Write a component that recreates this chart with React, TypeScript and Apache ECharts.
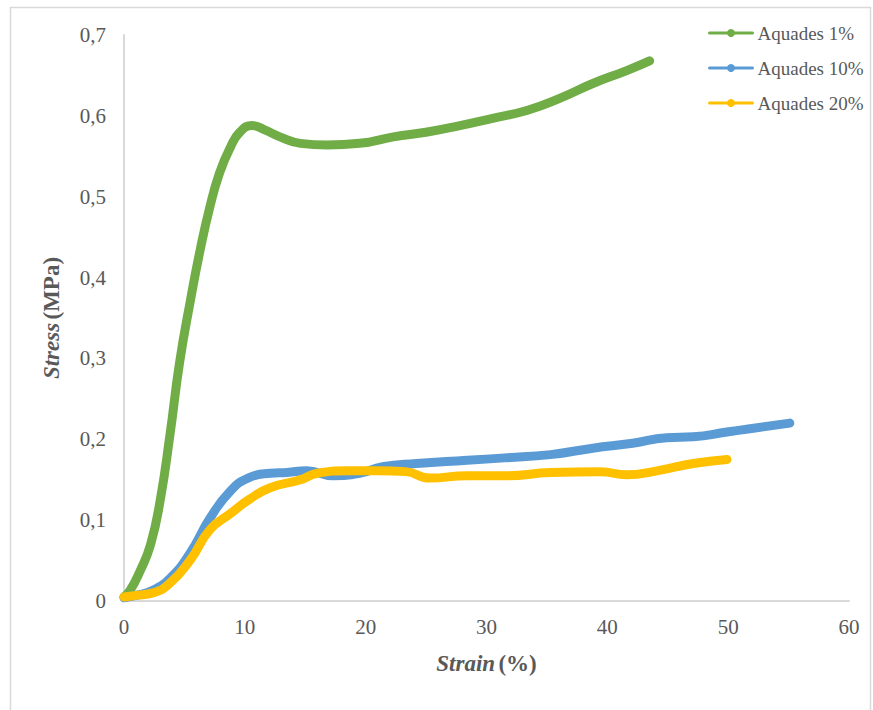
import React, { useEffect, useRef } from "react";
import * as echarts from "echarts";

const seriesNames = ["Aquades 1%", "Aquades 10%", "Aquades 20%"];
const colors = ["#70AD47", "#5B9BD5", "#FFC000"];

const greenX = [0, 0.5, 1.3, 2.2, 3.0, 3.8, 4.6, 5.5, 6.3, 7.1, 7.9, 8.8, 9.6, 10.6, 11.6, 12.9, 14.6, 16.8, 19.5, 22.3, 25.1, 27.8, 30.5, 33.4, 36.1, 38.8, 41.6, 43.5];
const greenY = [0.005, 0.013, 0.036, 0.07, 0.125, 0.205, 0.295, 0.372, 0.434, 0.487, 0.529, 0.561, 0.58, 0.588, 0.583, 0.574, 0.566, 0.564, 0.566, 0.574, 0.58, 0.588, 0.597, 0.607, 0.622, 0.64, 0.656, 0.668];

const blueX = [0, 1, 2.2, 3.8, 5.5, 7.1, 8.8, 10.4, 12.1, 13.5, 15.1, 17.3, 19.5, 21.4, 24.2, 28.4, 31.5, 35.3, 38.8, 42.1, 44.9, 47.1, 49.9, 51.8, 55.1];
const blueY = [0.004, 0.007, 0.012, 0.028, 0.06, 0.102, 0.136, 0.153, 0.158, 0.159, 0.161, 0.155, 0.158, 0.166, 0.17, 0.174, 0.177, 0.181, 0.189, 0.195, 0.202, 0.203, 0.209, 0.213, 0.22];

const yellowX = [0, 1, 2.4, 3.8, 5.5, 7.1, 8.8, 10.4, 12.1, 14.6, 16.0, 18.5, 21.0, 23.3, 25.3, 28.4, 31.7, 35.3, 39.4, 41.6, 44.1, 47.1, 49.9];
const yellowY = [0.005, 0.007, 0.01, 0.022, 0.051, 0.088, 0.108, 0.126, 0.14, 0.15, 0.158, 0.161, 0.161, 0.16, 0.152, 0.155, 0.155, 0.159, 0.16, 0.156, 0.161, 0.17, 0.175];

const xTicks = { min: 0, max: 60, interval: 10 };
const yTicks = { min: 0, max: 0.7, interval: 0.1 };

const zip = (xs: number[], ys: number[]) => xs.map((x, i) => [x, ys[i]]);

const FONT = "'Liberation Serif', 'Times New Roman', serif";

export default function App() {
  const ref = useRef<HTMLDivElement>(null);
  useEffect(() => {
    if (!ref.current) return;
    const chart = echarts.init(ref.current, undefined, { renderer: "svg" });
    const datasets = [zip(greenX, greenY), zip(blueX, blueY), zip(yellowX, yellowY)];
    const titleRich = {
      a: { fontFamily: FONT, fontSize: 23, fontWeight: "bold", fontStyle: "italic", color: "#595959" },
      b: { fontFamily: FONT, fontSize: 23, fontWeight: "bold", color: "#595959" },
    };
    chart.setOption({
      animation: false,
      backgroundColor: "#ffffff",
      graphic: [
        {
          type: "rect",
          shape: { x: 10.5, y: 7.5, width: 860, height: 720 },
          style: { fill: "none", stroke: "#d9d9d9", lineWidth: 1.5 },
          silent: true,
          z: -1,
        },
      ],
      grid: { left: 124, right: 24, top: 35, bottom: 109 },
      legend: {
        orient: "vertical",
        left: 703,
        top: 18,
        itemWidth: 43,
        itemHeight: 10,
        itemGap: 15,
        data: seriesNames,
        lineStyle: { width: 3 },
        textStyle: { fontFamily: FONT, fontSize: 19, lineHeight: 20, color: "#595959" },
      },
      xAxis: {
        type: "value",
        ...xTicks,
        axisLine: { lineStyle: { color: "#d9d9d9", width: 2 } },
        axisTick: { show: false },
        splitLine: { show: false },
        axisLabel: { fontFamily: FONT, fontSize: 21, color: "#595959", margin: 15 },
        name: "{a|Strain} {b|(%)}",
        nameLocation: "middle",
        nameGap: 51,
        nameTextStyle: { rich: titleRich },
      },
      yAxis: {
        type: "value",
        ...yTicks,
        axisLine: { show: true, lineStyle: { color: "#d9d9d9", width: 2 } },
        axisTick: { show: false },
        splitLine: { show: false },
        axisLabel: {
          fontFamily: FONT,
          fontSize: 21,
          color: "#595959",
          margin: 18,
          formatter: (v: number) => (v === 0 ? "0" : v.toFixed(1).replace(".", ",")),
        },
        name: "{a|Stress} {b|(MPa)}",
        nameLocation: "middle",
        nameRotate: 90,
        nameGap: 61,
        nameTextStyle: { rich: titleRich },
      },
      series: seriesNames.map((name, i) => ({
        name,
        type: "line",
        data: datasets[i],
        smooth: 0.5,
        symbol: "circle",
        symbolSize: 8,
        showSymbol: false,
        color: colors[i],
        lineStyle: { color: colors[i], width: 9, cap: "round", join: "round" },
        z: 2 + i,
      })),
    });
    return () => chart.dispose();
  }, []);
  return (
    <div
      ref={ref}
      style={{ position: "fixed", left: 0, top: 0, width: 873, height: 710 }}
    />
  );
}
